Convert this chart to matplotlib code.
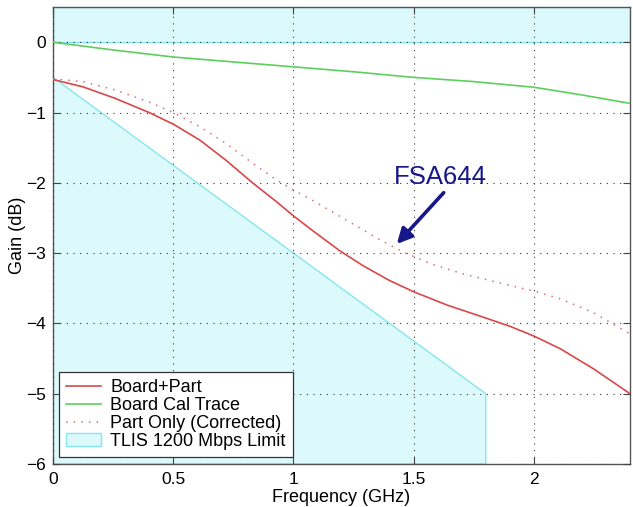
import matplotlib
matplotlib.use("Agg")
import matplotlib.pyplot as plt
from matplotlib.patches import Polygon

plt.rcParams['font.family'] = ['Liberation Sans', 'DejaVu Sans']

# ---- data ----
red_x = [0, 0.125, 0.26, 0.40, 0.50, 0.61, 0.72, 0.83, 0.93, 1.00, 1.08, 1.19,
         1.29, 1.40, 1.50, 1.64, 1.78, 1.90, 2.00, 2.11, 2.25, 2.40]
red_y = [-0.53, -0.635, -0.80, -1.00, -1.165, -1.39, -1.68, -2.00, -2.27, -2.47,
         -2.68, -2.96, -3.18, -3.39, -3.55, -3.74, -3.90, -4.04, -4.18, -4.36,
         -4.65, -5.00]

green_x = [0, 0.25, 0.5, 0.75, 1.0, 1.25, 1.5, 1.75, 2.0, 2.2, 2.4]
green_y = [0, -0.11, -0.21, -0.28, -0.35, -0.42, -0.50, -0.56, -0.64, -0.75, -0.87]

dot_x = [0, 0.125, 0.26, 0.40, 0.50, 0.61, 0.72, 0.83, 0.93, 1.00, 1.08, 1.22,
         1.36, 1.46, 1.57, 1.70, 1.83, 2.00, 2.11, 2.25, 2.40]
dot_y = [-0.52, -0.56, -0.68, -0.85, -1.00, -1.20, -1.44, -1.72, -1.96, -2.10,
         -2.25, -2.53, -2.81, -2.99, -3.15, -3.29, -3.40, -3.54, -3.65, -3.85,
         -4.15]

limit_x = [0, 1.8, 1.8, 0]
limit_y = [-0.5, -5.0, -6.0, -6.0]
band_x = [0, 2.4, 2.4, 0]
band_y = [0, 0, 0.5, 0.5]

labels = ["Board+Part", "Board Cal Trace", "Part Only (Corrected)", "TLIS 1200 Mbps Limit"]
xticks = [0, 0.5, 1, 1.5, 2]
xticklabels = ['0', '0.5', '1', '1.5', '2']
yticks = [-6, -5, -4, -3, -2, -1, 0]

# ---- figure ----
fig = plt.figure(figsize=(6.33, 5.07), dpi=100)
ax = fig.add_axes([0.0837, 0.0848, 0.9116, 0.9012])

fill_c = '#dcfafb'
edge_c = '#86e6ee'
lim_patch = Polygon(list(zip(limit_x, limit_y)), closed=True, facecolor=fill_c,
                    edgecolor=edge_c, lw=1.0, zorder=1, label=labels[3])
band_patch = Polygon(list(zip(band_x, band_y)), closed=True, facecolor=fill_c,
                     edgecolor=edge_c, lw=1.0, zorder=1)
ax.add_patch(lim_patch)
ax.add_patch(band_patch)

l1, = ax.plot(red_x, red_y, color='#d84848', lw=1.2, zorder=3, label=labels[0])
l2, = ax.plot(green_x, green_y, color='#5ccf5c', lw=1.2, zorder=3, label=labels[1])
l3, = ax.plot(dot_x, dot_y, color='#d87070', lw=1.1, ls=(0, (1, 4)), zorder=3,
              label=labels[2])

ax.set_xlim(0, 2.4)
ax.set_ylim(-6, 0.5)
ax.set_xticks(xticks)
ax.set_xticklabels(xticklabels)
ax.set_yticks(yticks)
ax.tick_params(direction='in', top=True, right=True, labelsize=12.5, length=5,
               color='#444444')
ax.tick_params(axis='x', pad=6)
ax.tick_params(axis='y', pad=5)
ax.grid(True, color='#333333', ls=(0, (1, 5)), lw=0.8, zorder=2)
ax.set_axisbelow(False)
for s in ax.spines.values():
    s.set_color('#555555')
    s.set_linewidth(1.0)

ax.set_xlabel('Frequency (GHz)', fontsize=13, labelpad=1)
ax.set_ylabel('Gain (dB)', fontsize=13, labelpad=0)

# annotation
ax.annotate('', xy=(1.43, -2.87), xytext=(1.625, -2.14),
            arrowprops=dict(arrowstyle='-|>,head_length=0.9,head_width=0.45',
                            color='#17178a', lw=2.6, shrinkA=0, shrinkB=0),
            zorder=5)
ax.text(1.61, -1.92, 'FSA644', color='#17178a', fontsize=18.5,
        ha='center', va='center', zorder=5)

leg = ax.legend(handles=[l1, l2, l3, lim_patch], loc='lower left',
                bbox_to_anchor=(0.0104, 0.0153), borderaxespad=0,
                fontsize=13, frameon=True, fancybox=False, framealpha=1,
                edgecolor='#333333', handlelength=1.9, handletextpad=0.55,
                labelspacing=0.05, borderpad=0.4)
leg.get_frame().set_linewidth(0.9)
leg.set_zorder(6)

fig.savefig('out.png', dpi=100)
